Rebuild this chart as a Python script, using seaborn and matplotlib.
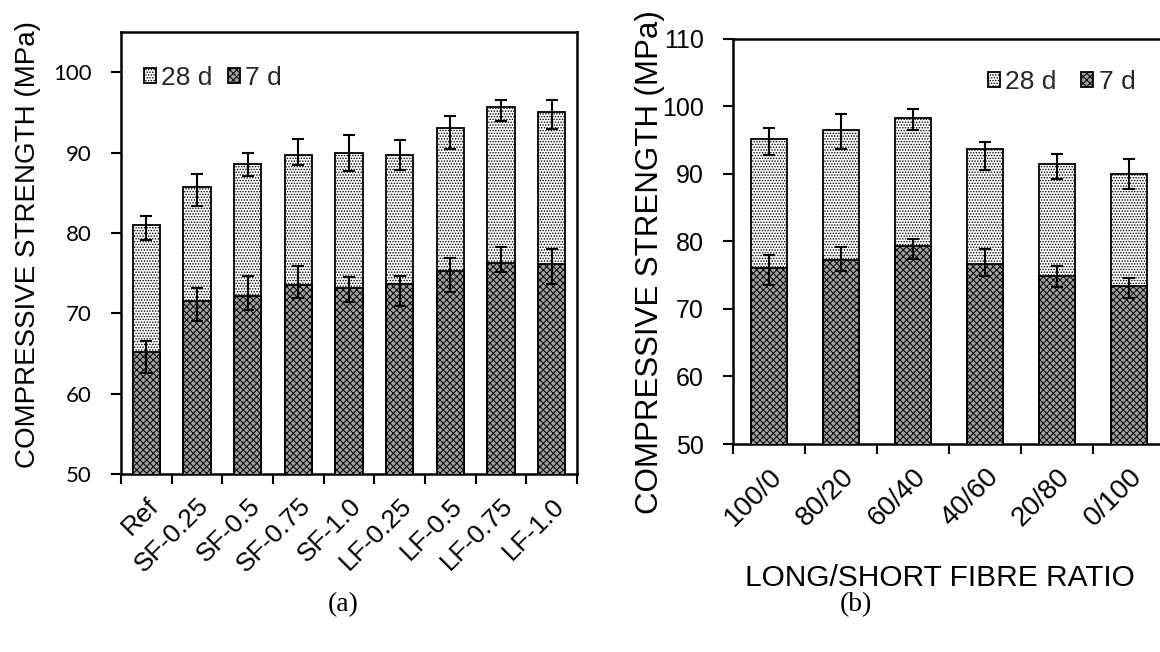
import numpy as np
import matplotlib
matplotlib.use("Agg")
import matplotlib.pyplot as plt
import seaborn as sns

# ---------------- data ----------------
cats_a = ["Ref", "SF-0.25", "SF-0.5", "SF-0.75", "SF-1.0", "LF-0.25", "LF-0.5", "LF-0.75", "LF-1.0"]
d28_a = [81.0, 85.7, 88.6, 89.7, 89.9, 89.7, 93.1, 95.7, 95.1]
d28_a_up = [1.1, 1.6, 1.3, 2.0, 2.3, 1.8, 1.5, 0.9, 1.4]
d28_a_dn = [1.9, 2.3, 1.5, 1.2, 2.2, 1.9, 2.7, 1.8, 2.2]
d7_a = [65.2, 71.5, 72.1, 73.5, 73.2, 73.6, 75.3, 76.3, 76.1]
d7_a_up = [1.3, 1.7, 2.6, 2.4, 1.3, 1.0, 1.6, 1.9, 1.9]
d7_a_dn = [2.6, 2.5, 1.7, 1.6, 1.8, 2.7, 2.6, 1.2, 2.5]

cats_b = ["100/0", "80/20", "60/40", "40/60", "20/80", "0/100"]
d28_b = [95.2, 96.4, 98.3, 93.6, 91.5, 89.9]
d28_b_up = [1.5, 2.5, 1.3, 1.05, 1.4, 2.3]
d28_b_dn = [2.4, 2.8, 1.9, 3.0, 2.3, 2.1]
d7_b = [76.1, 77.2, 79.3, 76.6, 74.9, 73.4]
d7_b_up = [1.9, 1.9, 1.0, 2.2, 1.5, 1.2]
d7_b_dn = [2.5, 1.6, 1.9, 1.7, 1.6, 1.8]

ylabel = "COMPRESSIVE STRENGTH (MPa)"
xlabel_b = "LONG/SHORT FIBRE RATIO"

# ---------------- style ----------------
sns.set_theme(style="white")
plt.rcParams["font.family"] = ["Liberation Sans", "DejaVu Sans"]
plt.rcParams["hatch.linewidth"] = 0.7
plt.rcParams["hatch.color"] = "black"

W, H = 1160, 652
fig = plt.figure(figsize=(W / 100, H / 100), dpi=100)
ax1 = fig.add_axes([121 / W, 1 - 474 / H, 456 / W, 442 / H])
ax2 = fig.add_axes([733 / W, 1 - 444 / H, 432 / W, 405.5 / H])


def panel(ax, cats, v28, e28u, e28d, v7, e7u, e7d, width, ylim, tickfont, ytsize, xtsize):
    sns.barplot(x=cats, y=v28, ax=ax, color="white", edgecolor="black", linewidth=1.3,
                hatch="......", width=width, saturation=1, label="28 d", zorder=2)
    sns.barplot(x=cats, y=v7, ax=ax, color="#a0a0a0", edgecolor="black", linewidth=1.3,
                hatch="xxxxx", width=width, saturation=1, label="7 d", zorder=3)
    xs = np.arange(len(cats))
    ax.errorbar(xs, v28, yerr=[e28d, e28u], fmt="none", ecolor="black",
                elinewidth=1.5, capsize=4.5, capthick=1.5, zorder=5)
    ax.errorbar(xs, v7, yerr=[e7d, e7u], fmt="none", ecolor="black",
                elinewidth=1.5, capsize=4.5, capthick=1.5, zorder=5)
    ax.set_ylim(*ylim)
    ax.set_xlim(-0.5, len(cats) - 0.5)
    ax.set_yticks(np.arange(50, ylim[1] + 0.1, 10))
    ax.set_xticks(xs)
    ax.set_xticklabels(cats, rotation=45, ha="right", rotation_mode="anchor", fontsize=xtsize)
    ax.set_xticks(np.arange(-0.5, len(cats)), minor=True)
    ax.tick_params(axis="x", which="major", length=0, pad=14)
    ax.tick_params(axis="x", which="minor", length=7, width=1.5, direction="out", color="black", bottom=True)
    ax.tick_params(axis="y", which="major", length=7, width=1.5, direction="out", color="black", left=True, pad=14)
    for lab in ax.get_yticklabels():
        lab.set_fontfamily(tickfont)
        lab.set_fontsize(ytsize)
        lab.set_color("black")
    for lab in ax.get_xticklabels():
        lab.set_color("black")
    for s in ax.spines.values():
        s.set_visible(True)
        s.set_color("black")
        s.set_linewidth(1.8)
    ax.set_xlabel("")


panel(ax1, cats_a, d28_a, d28_a_up, d28_a_dn, d7_a, d7_a_up, d7_a_dn, 0.54, (50, 105),
      ["Lato", "DejaVu Sans"], 16, 19)
panel(ax2, cats_b, d28_b, d28_b_up, d28_b_dn, d7_b, d7_b_up, d7_b_dn, 0.51, (50, 110),
      ["Liberation Sans", "DejaVu Sans"], 18, 20)

ax1.set_ylabel(ylabel, fontsize=20, color="black")
ax1.yaxis.set_label_coords((41 - 121) / 456, (474 - 245) / 442)
ax2.set_ylabel(ylabel, fontsize=22.5, color="black")
ax2.yaxis.set_label_coords((665 - 733) / 432, (444 - 262) / 405.5)

leg_kw = dict(frameon=False, ncol=2, fontsize=19, handlelength=0.45, handleheight=0.45,
              handletextpad=0.2, borderaxespad=0, borderpad=0, loc="center left")
ax1.legend(bbox_to_anchor=(0.05, 0.896), columnspacing=0.6, **leg_kw)
ax2.legend(bbox_to_anchor=(0.59, 0.893), columnspacing=0.95, **leg_kw)

fig.text(940 / W, 1 - 578 / H, xlabel_b, ha="center", va="center", fontsize=21.5, color="black")
fig.text(343 / W, 1 - 605 / H, "(a)", ha="center", va="center", fontsize=20,
         family=["Liberation Serif", "DejaVu Serif"], color="black")
fig.text(856 / W, 1 - 605 / H, "(b)", ha="center", va="center", fontsize=20,
         family=["Liberation Serif", "DejaVu Serif"], color="black")

fig.savefig("out.png", dpi=100, facecolor="white")
